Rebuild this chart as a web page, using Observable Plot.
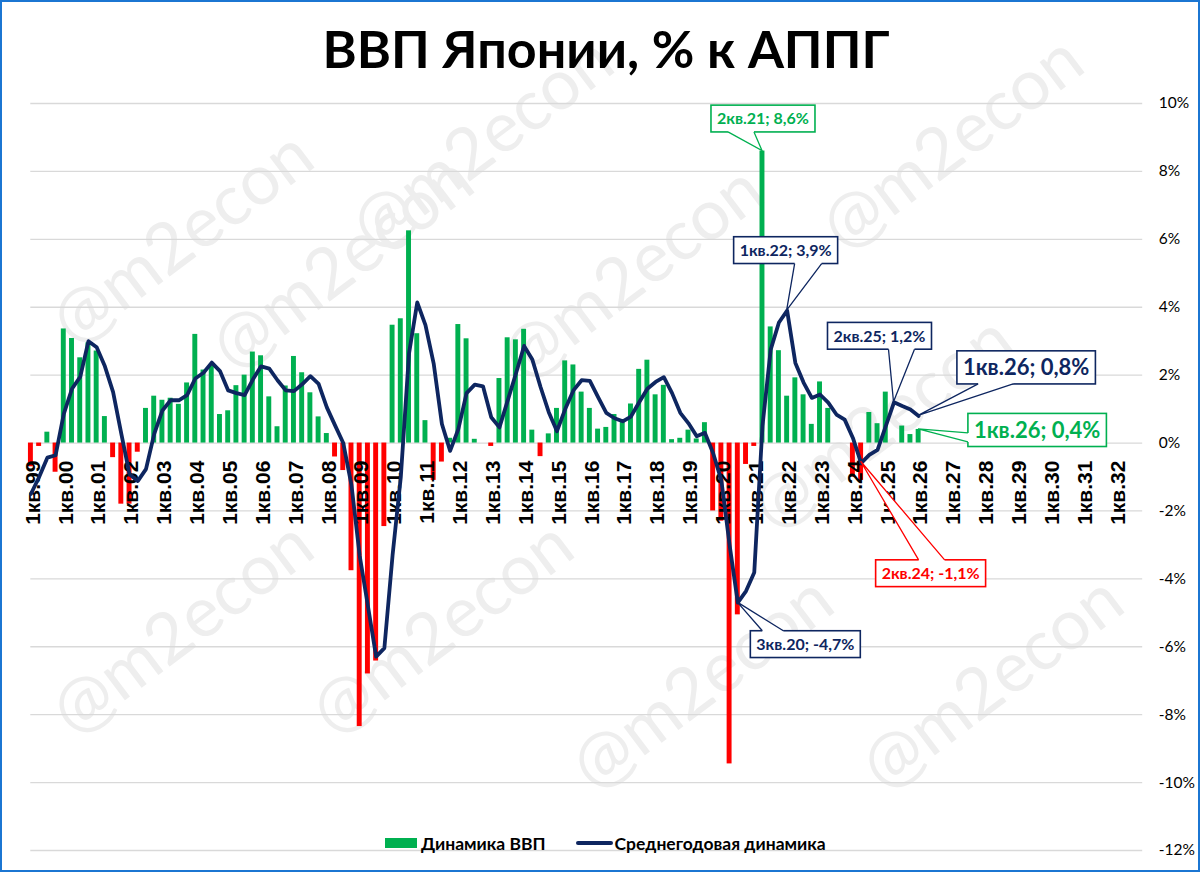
<!DOCTYPE html>
<html>
<head>
<meta charset="utf-8">
<script src="https://cdn.jsdelivr.net/npm/d3@7"></script>
<script src="https://cdn.jsdelivr.net/npm/@observablehq/plot@0.6"></script>
<style>
  html, body { margin: 0; padding: 0; background: #fff; }
  #wrap { position: relative; width: 1200px; height: 872px; overflow: hidden; background: #fff; font-family: Lato, "Noto Sans", sans-serif; }
  #wm { position: absolute; left: 0; top: 0; width: 1200px; height: 872px; }
  .wm { position: absolute; font: 400 70px Lato, "Noto Sans", sans-serif; color: #eeeeee; white-space: nowrap; transform: translate(-50%, -50%) rotate(-37deg); }
  #chart { position: absolute; left: 0; top: 0; }
  #title { position: absolute; left: 12px; right: 0; top: 22px; text-align: center; font: 700 52px/52px Lato, "Noto Sans", sans-serif; color: #000; }
  #legend { position: absolute; left: 385px; top: 831px; height: 24px; display: flex; align-items: center; font: 700 17.5px Lato, "Noto Sans", sans-serif; color: #000; }
  #legend .sw-bar { width: 32px; height: 10px; background: #00B050; margin-right: 4px; }
  #legend .sw-line { width: 37px; height: 3.5px; background: #0E2660; margin-left: 30px; margin-right: 2px; border-radius: 2px; }
  #border { position: absolute; left: 0; top: 0; width: 1200px; height: 872px; box-sizing: border-box; border: 2px solid #1B76D2; pointer-events: none; }
</style>
</head>
<body>
<div id="wrap">
  <div id="wm"></div>
  <div id="chart"></div>
  <div id="title"></div>
  <div id="legend"></div>
  <div id="border"></div>
</div>
<script>
// ---------------- DATA ----------------
const titleText = "ВВП Японии, % к АППГ";
const years = ["99","00","01","02","03","04","05","06","07","08","09","10","11","12","13","14","15","16","17","18","19","20","21","22","23","24","25","26","27","28","29","30","31","32"];
const quarterNames = ["1кв","2кв","3кв","4кв"];
const seriesNames = ["Динамика ВВП", "Среднегодовая динамика"];
const yTicks = [10, 8, 6, 4, 2, 0, -2, -4, -6, -8, -10, -12];

// GDP, % y/y, 1кв.99 ... 1кв.26 (bars)
const gdp = [
  -0.7, -0.1, 0.32, -0.86,
  3.36, 3.08, 2.51, 2.95,
  2.71, 0.78, -0.43, -1.8,
  -1.8, -0.27, 1.02, 1.38,
  1.26, 1.32, 1.14, 1.77,
  3.2, 2.15, 2.3, 0.84,
  0.95, 1.69, 2.0, 2.68,
  2.57, 1.36, 0.48, 1.68,
  2.55, 2.07, 1.48, 0.77,
  0.28, -0.41, -0.81, -3.76,
  -8.35, -6.8, -6.42, -2.46,
  3.47, 3.66, 6.25, 3.22,
  0.66, -1.1, -0.56, 0.14,
  3.49, 3.07, 0.11, 0.0,
  -0.1, 1.9, 3.1, 3.04,
  3.35, 0.38, -0.4, 0.27,
  1.02, 2.42, 2.3, 1.5,
  1.02, 0.41, 0.46, 0.84,
  0.66, 1.15, 2.17, 2.44,
  1.42, 1.7, 0.1, 0.14,
  0.38, 0.12, 0.6, -2.0,
  -2.3, -9.45, -5.06, -0.63,
  -0.1, 8.6, 3.42, 2.72,
  1.38, 1.92, 1.42, 0.55,
  1.8, 1.02, 0.0, 0.0,
  -1.0, -1.1, 0.9, 0.57,
  1.5, null, 0.5, 0.25,
  0.4
];

// Average annual dynamics, % (line)
const avg = [
  -1.5, -1.0, -0.43, -0.36,
  0.86, 1.6, 1.95, 3.0,
  2.82, 2.26, 1.5, 0.27,
  -0.92, -1.12, -0.77, 0.27,
  0.96, 1.26, 1.26, 1.41,
  1.9, 2.07, 2.37, 2.12,
  1.55, 1.47, 1.41, 1.87,
  2.26, 2.19, 1.85, 1.55,
  1.53, 1.73, 1.97, 1.74,
  1.05, 0.52, 0.0, -1.24,
  -3.32, -4.8, -6.29, -6.04,
  -3.3, -1.0, 2.64, 4.14,
  3.47, 2.34, 0.56, -0.23,
  0.41, 1.47, 1.72, 1.67,
  0.76, 0.46, 1.25, 2.04,
  2.86, 2.46, 1.65, 0.91,
  0.35, 1.0, 1.55, 1.85,
  1.83, 1.35, 0.89, 0.73,
  0.64, 0.78, 1.2, 1.6,
  1.8, 1.94, 1.47, 0.89,
  0.58, 0.2, 0.3, -0.3,
  -1.1, -3.0, -4.7, -4.36,
  -3.81, 0.5, 2.75, 3.55,
  3.9, 2.36, 1.78, 1.33,
  1.43, 1.19, 0.84, 0.69,
  0.15, -0.59, -0.35, -0.2,
  0.5, 1.2, 1.09, 0.99,
  0.8
];

// annotated points: [category, series]
const notes = [
  ["2кв.21", "bar"], ["1кв.22", "line"], ["2кв.25", "line"], ["1кв.26", "line"],
  ["1кв.26", "bar"], ["2кв.24", "bar"], ["3кв.20", "line"]
];

// ---------------- STYLE / LAYOUT ----------------
const GREEN = "#00B050", RED = "#FF0000", NAVY = "#0E2660";
const FONT = "Lato, 'Noto Sans', sans-serif";
// callout layout: box offset from tip (px), wedge base offsets along edge (px), font size
const noteLayout = [
  {color: GREEN, size: 16, box: [1, -32], edge: "bottom", base: [-35, -9]},
  {color: NAVY,  size: 16, box: [-1, -60], edge: "bottom", base: [9, 36]},
  {color: NAVY,  size: 16, box: [-14, -66], edge: "bottom", base: [9, 35]},
  {color: NAVY,  size: 22, box: [108, -48], edge: "bottom", base: [-48, -13]},
  {color: GREEN, size: 22, box: [119, 1], edge: "left", base: [3, 12]},
  {color: RED,   size: 16, box: [70, 112], edge: "top", base: [-12, 14], half: true},
  {color: NAVY,  size: 16, box: [68, 42], edge: "top", base: [-43, -22]}
];
const watermarks = [[180,235],[480,140],[950,140],[340,260],[630,270],[880,420],[180,625],[440,625],[700,680],[990,680]];

// ---------------- BUILD ----------------
const categories = years.flatMap(y => quarterNames.map(q => `${q}.${y}`));
const rows = gdp.map((v, i) => ({q: categories[i], gdp: v, avg: avg[i]}));
const firstQ = years.map(y => `${quarterNames[0]}.${y}`);

const chart = Plot.plot({
  width: 1200,
  height: 872,
  marginLeft: 26.3,
  marginRight: 55.8,
  marginTop: 103,
  marginBottom: 22,
  style: {background: "transparent", overflow: "visible"},
  x: {type: "band", domain: categories, paddingInner: 0.4, paddingOuter: 0.2, round: false, axis: null},
  y: {domain: [-12, 10], axis: null},
  marks: [
    Plot.ruleY(yTicks, {stroke: "#d9d9d9", strokeWidth: 1.3, insetLeft: 4, insetRight: 2}),
    Plot.axisY(yTicks, {anchor: "right", tickSize: 0, tickPadding: 14, tickFormat: d => d + "%", fontSize: 15.5, fill: "#000", fontFamily: FONT, textAnchor: "start"}),
    Plot.barY(rows.filter(d => d.gdp != null && d.gdp >= 0), {x: "q", y: "gdp", fill: GREEN}),
    Plot.barY(rows.filter(d => d.gdp != null && d.gdp < 0), {x: "q", y: "gdp", fill: RED}),
    Plot.text(firstQ, {x: d => d, y: () => 0, text: d => d, rotate: -90, textAnchor: "end", dy: 17.5, dx: 2,
      fontSize: 21, fontWeight: 700, fontFamily: "'Liberation Sans', Arial, sans-serif", fill: "#000"}),
    Plot.lineY(rows, {x: "q", y: "avg", stroke: NAVY, strokeWidth: 3.8, strokeLinejoin: "round", strokeLinecap: "round"})
  ]
});
document.getElementById("chart").appendChild(chart);

// scales
const sxo = chart.scale("x"), syo = chart.scale("y");
const sx = d3.scaleBand(sxo.domain, sxo.range).paddingInner(sxo.paddingInner).paddingOuter(sxo.paddingOuter).align(sxo.align ?? 0.5);
const sy = d3.scaleLinear(syo.domain, syo.range);

// callouts
const svg = d3.select(chart);
const layer = svg.append("g");
notes.forEach(([q, kind], k) => {
  const L = noteLayout[k];
  const i = categories.indexOf(q);
  const v = kind === "bar" ? gdp[i] : avg[i];
  const tx = sx(q) + sx.bandwidth() / 2;
  const ty = L.half ? (sy(0) + sy(v)) / 2 : sy(v);
  const label = `${q}; ${v.toFixed(1).replace(".", ",")}%`;
  const cx = tx + L.box[0], cy = ty + L.box[1];
  const g = layer.append("g");
  const t = g.append("text").text(label)
    .attr("font-family", FONT).attr("font-weight", 700).attr("font-size", L.size)
    .attr("fill", L.color).attr("text-anchor", "middle")
    .attr("x", cx).attr("y", cy + 0.36 * L.size);
  const bb = t.node().getBBox();
  const w = bb.width + 12, h = L.size * 1.05 + 10;
  const x0 = cx - w / 2, y0 = cy - h / 2;
  let b1, b2, in1, in2;
  if (L.edge === "bottom") { b1 = [cx + L.base[0], y0 + h]; b2 = [cx + L.base[1], y0 + h]; in1 = [b1[0], b1[1] - 2]; in2 = [b2[0], b2[1] - 2]; }
  else if (L.edge === "top") { b1 = [cx + L.base[0], y0]; b2 = [cx + L.base[1], y0]; in1 = [b1[0], b1[1] + 2]; in2 = [b2[0], b2[1] + 2]; }
  else { b1 = [x0, cy + L.base[0]]; b2 = [x0, cy + L.base[1]]; in1 = [b1[0] + 2, b1[1]]; in2 = [b2[0] + 2, b2[1]]; }
  g.insert("rect", "text").attr("x", x0).attr("y", y0).attr("width", w).attr("height", h)
    .attr("fill", "#fff").attr("stroke", L.color).attr("stroke-width", 1.6);
  g.insert("polygon", "text").attr("points", [[tx, ty], b1, in1, in2, b2].map(p => p.join(",")).join(" "))
    .attr("fill", "#fff").attr("stroke", "none");
  g.insert("path", "text").attr("d", `M${b1[0]},${b1[1]}L${tx},${ty}L${b2[0]},${b2[1]}`)
    .attr("fill", "none").attr("stroke", L.color).attr("stroke-width", 1.3).attr("stroke-linejoin", "miter");
});

// title, legend, watermarks
document.getElementById("title").textContent = titleText;
const legend = d3.select("#legend");
legend.append("div").attr("class", "sw-bar");
legend.append("span").text(seriesNames[0]);
legend.append("div").attr("class", "sw-line");
legend.append("span").text(seriesNames[1]);
const wm = d3.select("#wm");
watermarks.forEach(([x, y]) => wm.append("div").attr("class", "wm").style("left", x + "px").style("top", y + "px").text("@m2econ"));
</script>
</body>
</html>
